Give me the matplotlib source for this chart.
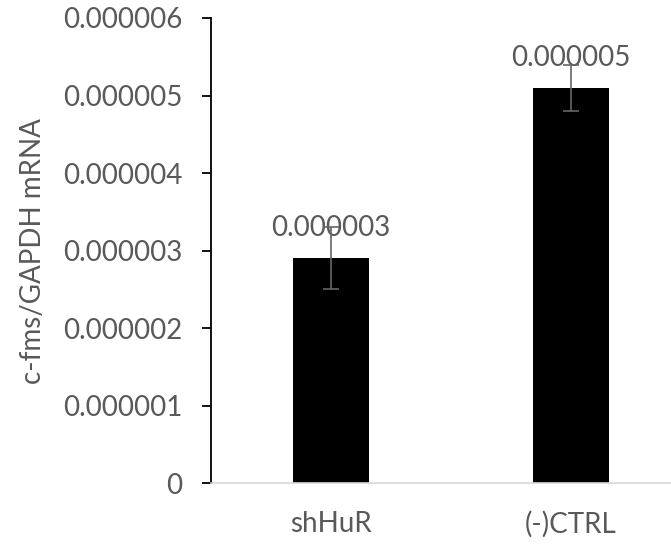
import numpy as np
import matplotlib
matplotlib.use("Agg")
import matplotlib.pyplot as plt

categories = ["shHuR", "(-)CTRL"]
values = [2.9e-6, 5.1e-6]
errors = [0.4e-6, 0.3e-6]
ytick_vals = [0, 1e-6, 2e-6, 3e-6, 4e-6, 5e-6, 6e-6]
ytick_labels = ["0", "0.000001", "0.000002", "0.000003", "0.000004", "0.000005", "0.000006"]

plt.rcParams['font.family'] = ['Lato', 'DejaVu Sans']
text_col = '#595959'
fs = 20

fig = plt.figure(figsize=(6.71, 5.47), dpi=100)
ax = fig.add_axes([211 / 671, 1 - 483.3 / 547, 1 - 211 / 671, (483.3 - 18) / 547])

x = np.arange(len(categories))
ax.bar(x, values, width=0.32, color='black', zorder=2)
ax.errorbar(x, values, yerr=errors, fmt='none', ecolor='#666666', elinewidth=1.2,
            capsize=6, capthick=1.2, zorder=4)

for xi, v in zip(x, values):
    ax.annotate(f"{v:.6f}", (xi, v), xytext=(0, 30), textcoords='offset pixels',
                ha='center', va='center', fontsize=fs, color=text_col, zorder=3)

ax.set_xlim(-0.5, -0.5 + 460 / 240)
ax.set_ylim(0, 6e-6)
ax.set_yticks(ytick_vals)
ax.set_yticklabels(ytick_labels)
ax.set_xticks(x)
ax.set_xticklabels(categories)

ax.spines['top'].set_visible(False)
ax.spines['right'].set_visible(False)
ax.spines['left'].set_color('black')
ax.spines['left'].set_linewidth(1.3)
ax.spines['bottom'].set_color('#d9d9d9')
ax.spines['bottom'].set_linewidth(1.2)

ax.tick_params(axis='y', direction='out', length=6.5, width=1.3, color='black',
               labelsize=fs, labelcolor=text_col, pad=14)
ax.tick_params(axis='x', length=0, labelsize=fs, labelcolor=text_col, pad=20)

ax.set_ylabel("c-fms/GAPDH mRNA", fontsize=fs, color=text_col, labelpad=12)

fig.savefig("out.png", dpi=100)
